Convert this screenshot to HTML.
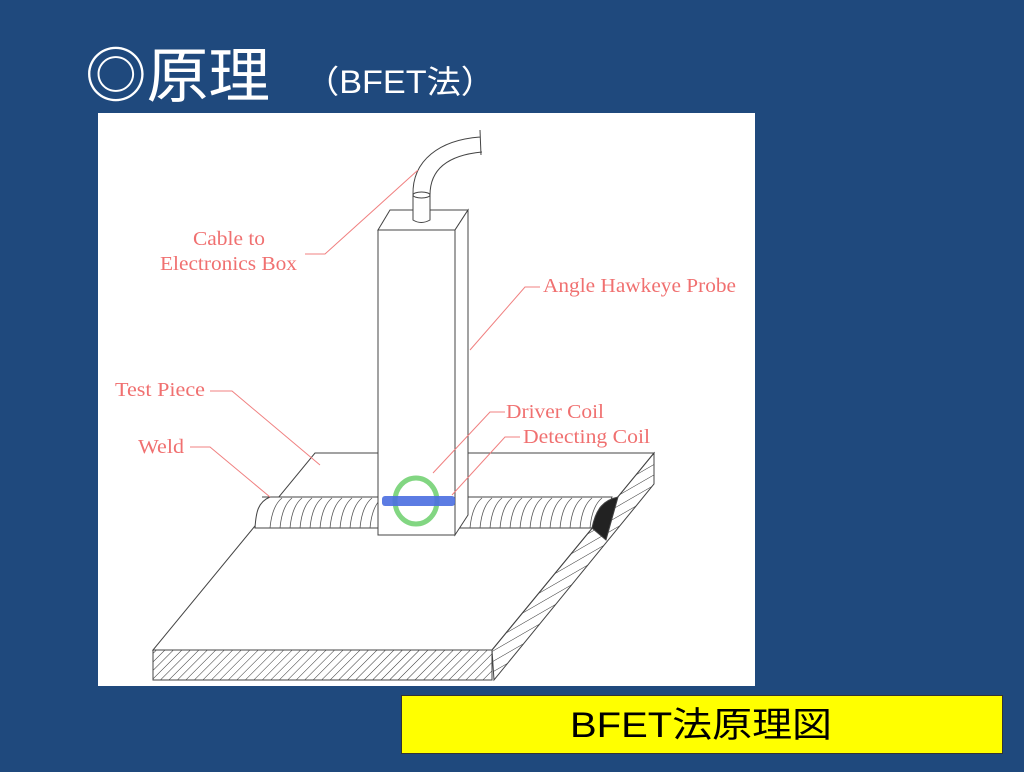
<!DOCTYPE html>
<html><head><meta charset="utf-8"><style>
html,body{margin:0;padding:0;background:#1f497d;width:1024px;height:772px;overflow:hidden}
</style></head><body>
<svg width="1024" height="772" xmlns="http://www.w3.org/2000/svg">
<defs>
<pattern id="h1" width="6" height="6" patternUnits="userSpaceOnUse" patternTransform="rotate(45)">
<line x1="0" y1="0" x2="0" y2="6" stroke="#333" stroke-width="1"/></pattern>
<pattern id="h2" width="9" height="9" patternUnits="userSpaceOnUse" patternTransform="rotate(60)">
<line x1="0" y1="0" x2="0" y2="9" stroke="#333" stroke-width="1"/></pattern>
</defs>
<rect x="0" y="0" width="1024" height="772" fill="#1f497d"/>
<text x="85" y="97" fill="#fff" font-size="60" textLength="185" lengthAdjust="spacingAndGlyphs" font-family="'Liberation Sans','Noto Sans CJK JP',sans-serif">◎原理</text>
<text x="305" y="93" fill="#fff" font-size="32" textLength="190" lengthAdjust="spacingAndGlyphs" font-family="'Liberation Sans','Noto Sans CJK JP',sans-serif">（BFET法）</text>
<rect x="98" y="113" width="657" height="573" fill="#fff"/>
<g stroke="#444" stroke-width="1" fill="none">
<polygon points="315,453 654,453 492,650 153,650" fill="#fff"/>
<rect x="153" y="650" width="339" height="30" fill="url(#h1)"/>
<polygon points="654,453 654,484 494,680 492,650" fill="url(#h2)"/>
<path d="M262,497 L612,497 L600,528 L255,528 C256,512 258,502 270,497 Z" fill="#fff"/>
<g stroke="#555" stroke-width="0.8">
<path d="M270,528 q2,-22 12,-30 M280,528 q2,-22 12,-30 M290,528 q2,-22 12,-30 M300,528 q2,-22 12,-30 M310,528 q2,-22 12,-30 M320,528 q2,-22 12,-30 M330,528 q2,-22 12,-30 M340,528 q2,-22 12,-30 M350,528 q2,-22 12,-30 M360,528 q2,-22 12,-30 M370,528 q2,-22 12,-30"/>
<path d="M470,528 q2,-22 12,-30 M480,528 q2,-22 12,-30 M490,528 q2,-22 12,-30 M500,528 q2,-22 12,-30 M510,528 q2,-22 12,-30 M520,528 q2,-22 12,-30 M530,528 q2,-22 12,-30 M540,528 q2,-22 12,-30 M550,528 q2,-22 12,-30 M560,528 q2,-22 12,-30 M570,528 q2,-22 12,-30 M580,528 q2,-22 12,-30 M590,528 q2,-22 12,-30"/>
</g>
<path d="M592,528 C596,508 604,500 618,497 L606,540 Z" fill="#222"/>
<polygon points="378,230 390,210 468,210 455,230" fill="#fff"/>
<polygon points="455,230 468,210 468,515 455,535" fill="#fff"/>
<rect x="378" y="230" width="77" height="305" fill="#fff"/>
<path d="M413,195 L413,220 Q421,225 430,220 L430,195" fill="#fff"/>
<path d="M413,195 C412,160 440,140 480,137 M430,195 C430,168 450,155 482,152 M480,130 L481,155"/>
<ellipse cx="421.5" cy="195" rx="8.5" ry="3" fill="#fff"/>
</g>
<ellipse cx="416" cy="501" rx="21" ry="23" fill="none" stroke="#6ccf6c" stroke-width="5" opacity="0.85"/>
<rect x="382" y="496" width="73" height="10" rx="3" fill="#4a6ee0" opacity="0.9"/>
<g stroke="#f08080" stroke-width="1" fill="none">
<path d="M305,254 L325,254 L418,170"/>
<path d="M540,287 L525,287 L470,350"/>
<path d="M210,391 L232,391 L320,465"/>
<path d="M190,447 L210,447 L270,497"/>
<path d="M505,412 L490,412 L433,473"/>
<path d="M520,437 L505,437 L452,495"/>
</g>
<g fill="#f07070" font-family="'Liberation Serif',serif" font-size="20">
<text x="193" y="245" textLength="72" lengthAdjust="spacingAndGlyphs">Cable to</text>
<text x="160" y="270" textLength="137" lengthAdjust="spacingAndGlyphs">Electronics Box</text>
<text x="543" y="292" textLength="193" lengthAdjust="spacingAndGlyphs">Angle Hawkeye Probe</text>
<text x="115" y="396" textLength="90" lengthAdjust="spacingAndGlyphs">Test Piece</text>
<text x="138" y="453" textLength="46" lengthAdjust="spacingAndGlyphs">Weld</text>
<text x="506" y="418" textLength="98" lengthAdjust="spacingAndGlyphs">Driver Coil</text>
<text x="523" y="443" textLength="127" lengthAdjust="spacingAndGlyphs">Detecting Coil</text>
</g>
<rect x="401.5" y="695.5" width="601" height="58" fill="#ffff00" stroke="#333" stroke-width="1"/>
<text x="570" y="737" fill="#000" font-size="35" textLength="262" lengthAdjust="spacingAndGlyphs" font-family="'Liberation Sans','Noto Sans CJK JP',sans-serif">BFET法原理図</text>
</svg>
</body></html>
